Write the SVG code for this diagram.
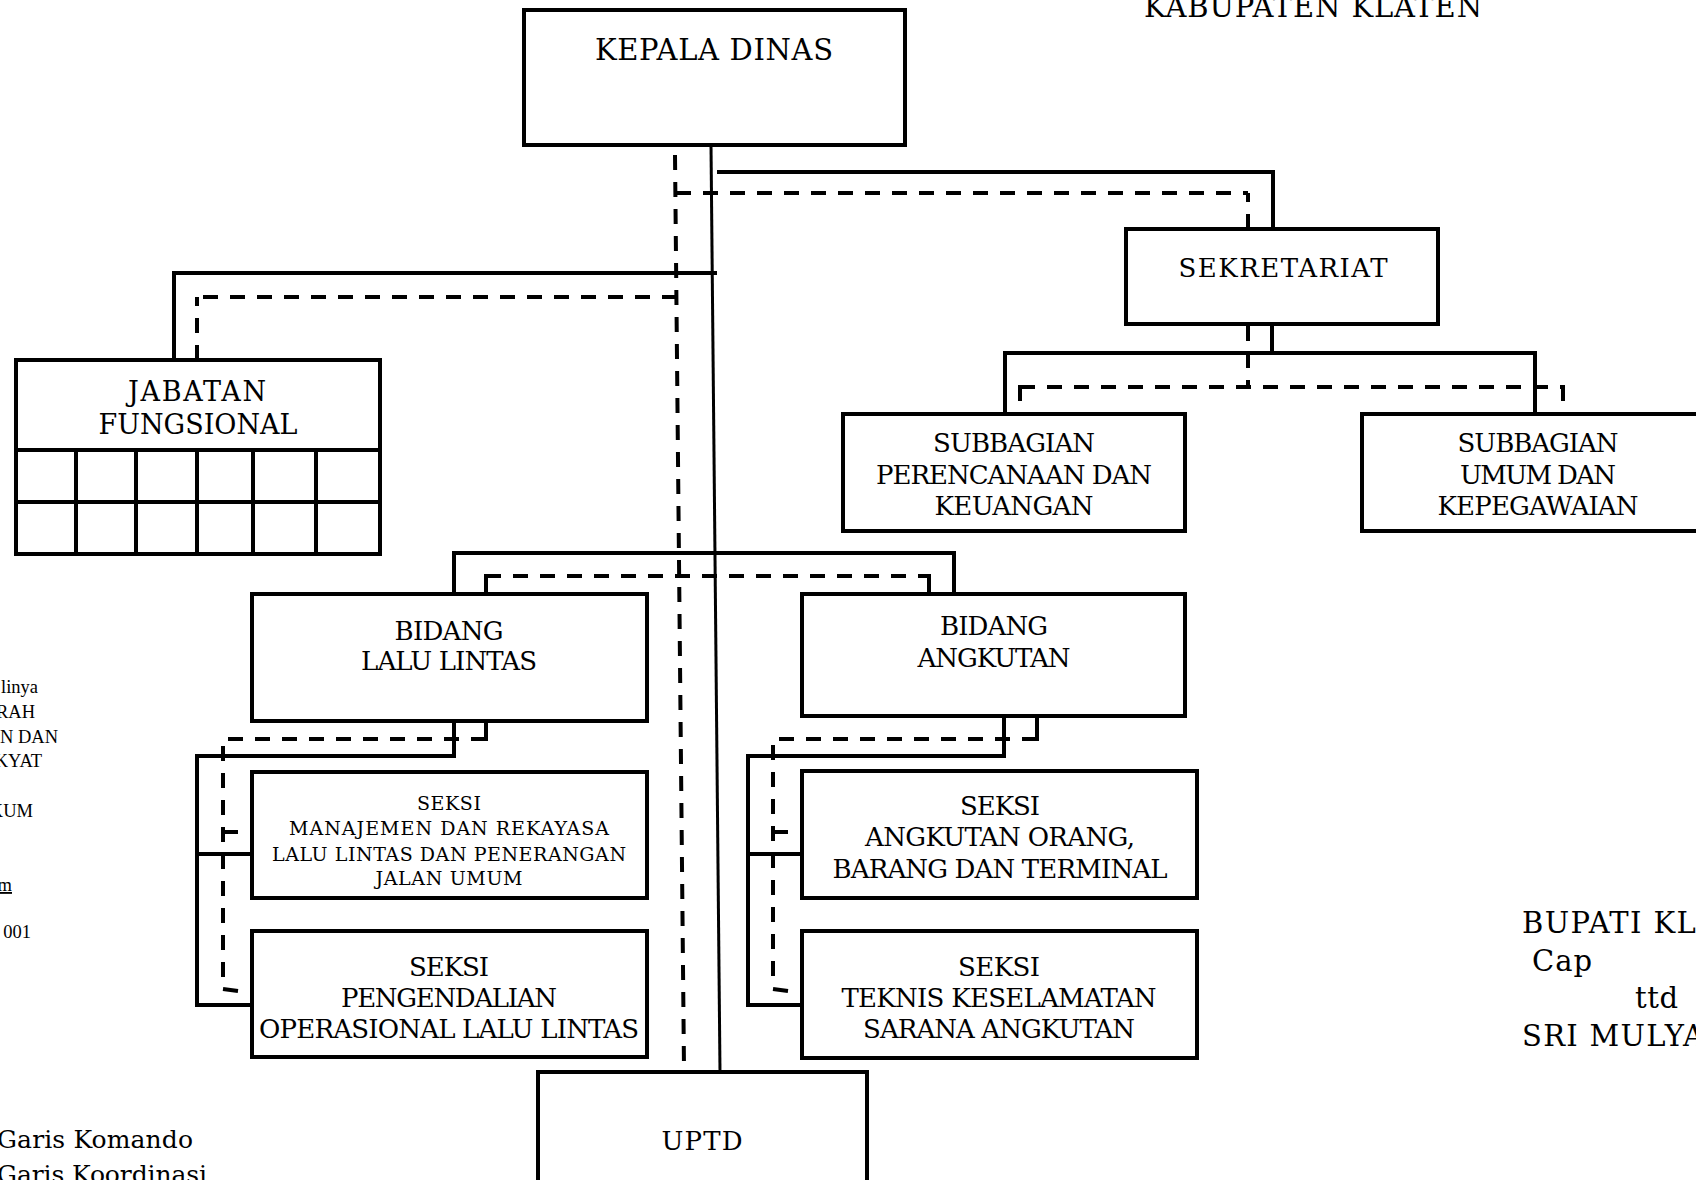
<svg xmlns="http://www.w3.org/2000/svg" width="1696" height="1180" viewBox="0 0 1696 1180">
<style>
.box{fill:#fff;stroke:#000;stroke-width:4}
.grid{fill:none;stroke:#000;stroke-width:4}
.s{fill:none;stroke:#000;stroke-width:4}
.m{fill:none;stroke:#000;stroke-width:3}
.d{fill:none;stroke:#000;stroke-width:4;stroke-dasharray:15 12}
.t{font-family:"DejaVu Serif","Liberation Serif",serif;font-size:26px;text-anchor:middle;fill:#000}
.k{font-size:29px}
.j{font-size:27px}
.sm{font-size:19px}
.l{font-family:"DejaVu Serif","Liberation Serif",serif;font-size:25px;fill:#000}
.sig{font-size:29px}
.tr{font-family:"Liberation Serif",serif;font-size:18.5px;text-anchor:end;fill:#000}
</style>
<rect x="0" y="0" width="1696" height="1180" fill="#fff"/>
<text class="t k" x="1313" y="17" textLength="338">KABUPATEN KLATEN</text>

<g id="connectors">
  <!-- main lines -->
  <path class="m" d="M711,145 L720,1072"/>
  <path class="d" d="M675,155 L684,1068"/>
  <!-- to sekretariat -->
  <path class="s" d="M717,172 H1273 V229"/>
  <path class="d" d="M676,193 H1248"/>
  <path class="d" d="M1248,229 V193"/>
  <!-- to jabatan fungsional -->
  <path class="s" d="M717,273 H174 V360"/>
  <path class="d" d="M677,297 H197"/>
  <path class="d" d="M197,360 V297"/>
  <!-- sekretariat to subbagian -->
  <path class="s" d="M1272,324 V355"/>
  <path class="s" d="M1005,414 V353 H1535 V414"/>
  <path class="d" d="M1248,326 V387"/>
  <path class="d" d="M1020,387 H1563"/>
  <path class="s" d="M1020,385 V401 M1563,385 V401"/>
  <!-- to bidang -->
  <path class="s" d="M454,596 V553 H954 V594"/>
  <path class="d" d="M486,576 H929"/>
  <path class="s" d="M486,574 V594 M929,574 V597"/>
  <!-- bidang lalu lintas to seksi -->
  <path class="s" d="M454,721 V756 H197 V1005 H252"/>
  <path class="s" d="M197,854 H252"/>
  <path class="s" d="M486,721 V741"/>
  <path class="d" d="M486,739 H223 V988"/>
  <path class="s" d="M223,832 H238 M223,989 L238,991"/>
  <!-- bidang angkutan to seksi -->
  <path class="s" d="M1004,716 V756 H748 V1005 H802"/>
  <path class="s" d="M748,854 H802"/>
  <path class="s" d="M1037,716 V741"/>
  <path class="d" d="M1037,739 H773 V988"/>
  <path class="s" d="M773,832 H788 M773,989 L788,991"/>
</g>

<g id="kepala-dinas">
  <rect class="box" x="524" y="10" width="381" height="135"/>
  <text class="t k" x="714" y="60" textLength="238">KEPALA DINAS</text>
</g>

<g id="sekretariat">
  <rect class="box" x="1126" y="229" width="312" height="95"/>
  <text class="t" x="1283" y="277" textLength="209">SEKRETARIAT</text>
</g>

<g id="jabatan-fungsional">
  <rect class="box" x="16" y="360" width="364" height="194"/>
  <path class="grid" d="M16,450 H380 M16,502 H380 M76,450 V554 M136,450 V554 M197,450 V554 M253,450 V554 M316,450 V554"/>
  <text class="t j" x="197" y="401" textLength="138">JABATAN</text>
  <text class="t j" x="198" y="434" textLength="199">FUNGSIONAL</text>
</g>

<g id="subbagian-perencanaan">
  <rect class="box" x="843" y="414" width="342" height="117"/>
  <text class="t" x="1014" y="452" textLength="162">SUBBAGIAN</text>
  <text class="t" x="1014" y="484" textLength="276">PERENCANAAN DAN</text>
  <text class="t" x="1014" y="515" textLength="159">KEUANGAN</text>
</g>

<g id="subbagian-umum">
  <rect class="box" x="1362" y="414" width="360" height="117"/>
  <text class="t" x="1538" y="452" textLength="161">SUBBAGIAN</text>
  <text class="t" x="1538" y="484" textLength="156">UMUM DAN</text>
  <text class="t" x="1538" y="515" textLength="201">KEPEGAWAIAN</text>
</g>

<g id="bidang-lalu-lintas">
  <rect class="box" x="252" y="594" width="395" height="127"/>
  <text class="t" x="449" y="640" textLength="109">BIDANG</text>
  <text class="t" x="449" y="670" textLength="176">LALU LINTAS</text>
</g>

<g id="bidang-angkutan">
  <rect class="box" x="802" y="594" width="383" height="122"/>
  <text class="t" x="994" y="635" textLength="108">BIDANG</text>
  <text class="t" x="994" y="667" textLength="153">ANGKUTAN</text>
</g>

<g id="seksi-manajemen">
  <rect class="box" x="252" y="772" width="395" height="126"/>
  <text class="t sm" x="449" y="810" textLength="64">SEKSI</text>
  <text class="t sm" x="449" y="835" textLength="320">MANAJEMEN DAN REKAYASA</text>
  <text class="t sm" x="449" y="861" textLength="354">LALU LINTAS DAN PENERANGAN</text>
  <text class="t sm" x="449" y="885" textLength="147">JALAN UMUM</text>
</g>

<g id="seksi-pengendalian">
  <rect class="box" x="252" y="931" width="395" height="126"/>
  <text class="t" x="449" y="976" textLength="80">SEKSI</text>
  <text class="t" x="449" y="1007" textLength="216">PENGENDALIAN</text>
  <text class="t" x="449" y="1038" textLength="380">OPERASIONAL LALU LINTAS</text>
</g>

<g id="seksi-angkutan-orang">
  <rect class="box" x="802" y="771" width="395" height="127"/>
  <text class="t" x="1000" y="815" textLength="80">SEKSI</text>
  <text class="t" x="1000" y="846" textLength="270">ANGKUTAN ORANG,</text>
  <text class="t" x="1000" y="878" textLength="335">BARANG DAN TERMINAL</text>
</g>

<g id="seksi-teknis">
  <rect class="box" x="802" y="931" width="395" height="127"/>
  <text class="t" x="999" y="976" textLength="82">SEKSI</text>
  <text class="t" x="999" y="1007" textLength="315">TEKNIS KESELAMATAN</text>
  <text class="t" x="999" y="1038" textLength="272">SARANA ANGKUTAN</text>
</g>

<g id="uptd">
  <rect class="box" x="538" y="1072" width="329" height="140"/>
  <text class="t" x="702" y="1150" textLength="81">UPTD</text>
</g>

<g id="left-notes">
  <text class="tr" x="38" y="693">linya</text>
  <text class="tr" x="35" y="718">RAH</text>
  <text class="tr" x="58" y="743">N DAN</text>
  <text class="tr" x="42" y="767">KYAT</text>
  <text class="tr" x="33" y="817">KUM</text>
  <text class="tr" x="12" y="891" text-decoration="underline">m</text>
  <text class="tr" x="31" y="938">. 001</text>
</g>

<g id="legend">
  <text class="l" x="-3" y="1148" textLength="196">Garis Komando</text>
  <text class="l" x="-3" y="1183" textLength="210">Garis Koordinasi</text>
</g>

<g id="signature">
  <text class="l sig" x="1522" y="933" textLength="196">BUPATI KLA</text>
  <text class="l sig" x="1532" y="971" textLength="60">Cap</text>
  <text class="l sig" x="1635" y="1008" textLength="43">ttd</text>
  <text class="l sig" x="1522" y="1046" textLength="182">SRI MULYA</text>
</g>
</svg>
